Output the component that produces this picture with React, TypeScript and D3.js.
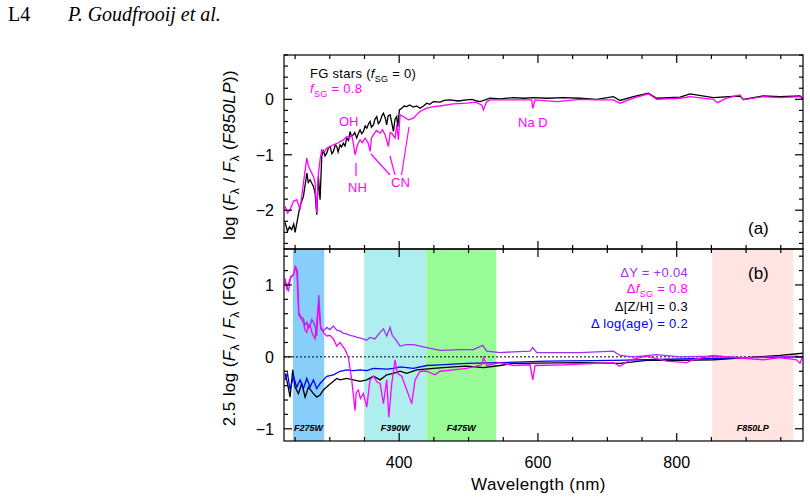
import React, { useEffect, useRef } from 'react';
import * as d3 from 'd3';

type Pt = [number, number];

// panel (a): log(F_lambda / F_lambda(F850LP)) vs wavelength (nm)
const fgStars: Pt[] = [
  [235.6, -2.22], [239, -2.38], [242, -2.3], [245, -2.35], [248, -2.25], [250, -2.4], [253.4, -2.17], [257, -1.93],
  [262, -1.75], [267, -1.33], [269, -1.5], [271.6, -1.45], [276.4, -1.57], [278.8, -1.69], [281.2, -2.08],
  [283.6, -1.39], [286, -1.81], [288.4, -1.03], [290.8, -0.91], [293, -1.02], [295.6, -0.97], [298, -0.88], [300.4, -0.85],
  [303, -0.98], [305.2, -0.94], [308, -0.82], [310, -0.85], [312, -0.95], [314.8, -0.82], [317, -0.86], [319.6, -0.79],
  [322, -0.84], [324.4, -0.7], [327, -0.74], [329.2, -0.58], [331, -0.66], [334, -0.64], [336, -0.6], [338.8, -0.7],
  [341, -0.62], [343.6, -0.55], [346, -0.62], [348.4, -0.58], [351, -0.48], [353.3, -0.52], [356, -0.44], [358, -0.4],
  [360, -0.5], [362.9, -0.46], [365, -0.36], [367.7, -0.31], [370, -0.44], [372.5, -0.4], [375, -0.3], [377.3, -0.25],
  [380, -0.34], [382, -0.46], [384, -0.3], [386.9, -0.28], [389, -0.4], [391.7, -0.58], [394, -0.36], [396.5, -0.31],
  [398, -0.5], [400.3, -0.19], [403.7, -0.16], [407, -0.12], [410.9, -0.13], [415, -0.1], [420.5, -0.14],
  [425, -0.12], [430.1, -0.16], [435, -0.12], [439.7, -0.07], [444, -0.09], [449.3, -0.04], [458.9, -0.05], [465, -0.02],
  [473.3, -0.01], [485, -0.03], [497.3, -0.01], [505, 0], [512, -0.03],
  [516.6, -0.04], [531, 0.02], [545, 0.01], [564.6, 0.03], [580, 0.02], [593.4, 0.03], [612.7, 0.02], [636.7, 0.03],
  [660.7, 0.02], [684.7, 0], [708.7, 0.05], [718.3, -0.02], [737.5, 0.05], [759.2, 0.11],
  [771.2, 0.02], [804.8, 0.04], [819.2, 0.1], [852.8, 0.03], [891.2, 0.06], [896, 0],
  [924.9, 0.06], [948.9, 0.05], [977.7, 0.06], [981.5, 0.02],
];

const fsg08: Pt[] = [
  [235.6, -1.93], [239, -2.05], [242.8, -1.99], [247.6, -1.84], [252.4, -1.81], [257.2, -1.99],
  [262, -1.51], [266.8, -1.06], [269, -1.2], [271.6, -1.27], [276.4, -1.39], [278.8, -1.51], [281.2, -2.05],
  [283.6, -1.33], [286, -1.09], [288.4, -0.91], [292, -0.95], [295.6, -0.88], [300, -0.86], [305.2, -0.82],
  [310, -0.8], [314.8, -0.76], [319, -0.74], [324.4, -0.67], [328, -0.7], [331.6, -0.64], [334, -0.8],
  [336.4, -1.0], [340, -0.82], [343.6, -0.73], [347, -0.78], [350.9, -0.7], [355, -0.78], [358.1, -0.94],
  [360, -0.7], [362.9, -0.64], [367, -0.56], [372.5, -0.61], [376, -0.55], [379.7, -0.64], [384.5, -0.85],
  [387, -0.6], [389.3, -0.61], [394.1, -0.7], [396.5, -0.46], [398.9, -0.73], [401.3, -0.28], [406.1, -0.31],
  [413.3, -0.37], [420.5, -0.34], [425, -0.28], [430.1, -0.22], [439.7, -0.16], [449.3, -0.13], [458.9, -0.12],
  [478.1, -0.08], [497.3, -0.07], [510, -0.05],
  [519, -0.1], [521.4, -0.19], [526.2, -0.04], [531, -0.01], [564.6, -0.01], [591, -0.01],
  [592.5, -0.16], [595.9, -0.01], [627, -0.04], [660.7, 0], [684.7, -0.01], [708.7, -0.01],
  [718.3, -0.07], [737.5, 0.02], [759.2, 0.1], [771.2, 0], [804.8, 0.02], [819.2, 0.05],
  [852.8, 0], [858.6, -0.06], [872, 0.02], [891.2, 0.08], [896, -0.01], [924.9, 0.05],
  [948.9, 0.03], [977.7, 0.05], [981.5, 0],
];

// panel (b): 2.5 log(F_lambda / F_lambda(FG))
const deltaY: Pt[] = [
  [235.6, 1.09], [238, 0.98], [240.4, 0.91], [243.7, 1.12], [247.6, 1.14], [251, 1.25],
  [253.4, 1.19], [255.3, 0.61], [259, 0.55], [262, 0.53], [264, 0.44], [266.8, 0.48], [269, 0.4], [271.6, 0.43],
  [274, 0.52], [276.4, 0.48], [279, 0.42], [281.2, 0.29], [284.1, 0.86], [287, 0.41], [291, 0.36], [295.6, 0.41],
  [300, 0.38], [305.2, 0.43], [310, 0.37], [314.8, 0.36], [319, 0.33], [324.4, 0.32], [329, 0.3], [334, 0.29],
  [340, 0.27], [348.4, 0.25], [353, 0.23], [358, 0.27], [365, 0.25], [372.5, 0.34], [377.3, 0.39],
  [382.1, 0.29], [386.9, 0.41], [390, 0.3], [394.1, 0.25], [401.3, 0.15], [410, 0.17], [420.5, 0.17], [430.1, 0.15],
  [439.7, 0.13], [458.9, 0.09], [487.7, 0.1], [507, 0.1], [520.4, 0.16], [526.2, 0.08],
  [545.4, 0.06], [564.6, 0.07], [588.6, 0.08], [592.5, 0.13], [598.3, 0.06], [660.7, 0.06],
  [708.7, 0.08], [718.3, 0.02], [737.5, 0], [771.2, 0.03], [804.8, 0], [852.8, 0.01],
  [900.8, -0.01], [972.9, 0.01], [981.5, -0.01],
];

const deltaFsg: Pt[] = [
  [235.6, 1.05], [238, 0.95], [242.8, 1.09], [247.6, 1.14], [250, 1.25], [252.4, 1.19],
  [255.3, 0.58], [262, 0.48], [264, 0.38], [266.8, 0.34], [269, 0.45], [271.6, 0.43], [275, 0.32], [278.8, 0.25],
  [283.6, 0.72], [287, 0.39], [290.8, 0.34], [295.6, 0.29], [300, 0.3], [305.2, 0.25], [310, 0.15], [314.8, 0.2],
  [322, 0.1], [326.8, -0.01], [331.6, -0.32], [336.4, -0.75], [338, -0.5], [341.2, -0.46], [344, -0.58], [348.4, -0.51],
  [353.3, -0.7], [358, -0.32], [362.9, -0.27], [368, -0.35], [372.5, -0.37], [377.3, -0.65], [382.1, -0.32],
  [385, -0.84], [389.3, -0.37], [394.1, -0.04], [397.4, -0.23], [403.7, -0.27], [410.9, -0.46],
  [418.1, -0.65], [422.9, -0.32], [430.1, -0.2], [439.7, -0.2], [451.7, -0.25], [458.9, -0.2],
  [478.1, -0.18], [497.3, -0.16], [519, -0.11], [521.4, -0.01], [526.2, -0.12], [545.4, -0.08],
  [564.6, -0.12], [588.6, -0.11], [592.5, -0.32], [595.9, -0.12], [636.7, -0.11], [684.7, -0.09],
  [708.7, -0.08], [718.3, -0.13], [732.7, -0.04], [756.8, 0.01], [785.6, -0.06], [814.4, -0.08],
  [824, -0.04], [852.8, 0.02], [881.6, -0.01], [924.9, -0.04], [948.9, -0.01], [972.9, -0.04],
  [977.7, -0.09], [981.5, 0.01],
];

const deltaZH: Pt[] = [
  [235.6, -0.23], [239, -0.37], [242.8, -0.56], [246.6, -0.18], [250, -0.42], [254.8, -0.51],
  [259.6, -0.37], [264.4, -0.56], [269.2, -0.42], [276.4, -0.51], [281.2, -0.56], [286, -0.53],
  [290.8, -0.46], [295.6, -0.42], [300, -0.38], [305.2, -0.34], [310, -0.3], [314.8, -0.32], [324.4, -0.3], [334, -0.32],
  [343.6, -0.34], [353.3, -0.32], [362.9, -0.27], [372.5, -0.32], [382.1, -0.25], [391.7, -0.23],
  [401.3, -0.2], [410.9, -0.23], [425.3, -0.18], [449.3, -0.16], [478.1, -0.14], [497.3, -0.13],
  [521.4, -0.15], [545.4, -0.12], [564.6, -0.09], [660.7, -0.08], [718.3, -0.09], [756.8, -0.05],
  [804.8, -0.05], [852.8, -0.04], [900.8, -0.01], [948.9, 0.02], [981.5, 0.05],
];

const deltaAge: Pt[] = [
  [235.6, -0.32], [239, -0.23], [242.8, -0.46], [247.6, -0.27], [252.4, -0.42], [257.2, -0.32],
  [262, -0.44], [266.8, -0.3], [271.6, -0.42], [276.4, -0.32], [281.2, -0.44], [286, -0.37],
  [290.8, -0.32], [295.6, -0.27], [305.2, -0.25], [314.8, -0.2], [324.4, -0.18], [334, -0.19],
  [343.6, -0.18], [353.3, -0.19], [362.9, -0.16], [382.1, -0.17], [391.7, -0.16], [401.3, -0.14],
  [420.5, -0.16], [439.7, -0.12], [458.9, -0.11], [497.3, -0.09], [545.4, -0.08], [612.7, -0.06],
  [708.7, -0.05], [804.8, -0.03], [900.8, -0.01], [981.5, 0],
];

// HST filter bands shaded in panel (b)
const bandNames = ['F275W', 'F390W', 'F475W', 'F850LP'];
const bandLo = [247, 349.5, 439, 851];
const bandHi = [292, 439, 540, 968];
const bandColors = ['#87cefa', '#afeeee', '#98fb98', '#ffe4e1'];

const xTicks = [400, 600, 800];
const aTicks = [-2, -1, 0];
const bTicks = [-1, 0, 1];

type Part = { t: string; i?: boolean; sub?: boolean };

const font = "'Liberation Sans', Arial, sans-serif";

function rich(sel: d3.Selection<SVGTextElement, unknown, null, undefined>, parts: Part[], subSize: number) {
  let down = false;
  parts.forEach(p => {
    const ts = sel.append('tspan').text(p.t);
    if (p.i) ts.attr('font-style', 'italic');
    if (p.sub && !down) { ts.attr('dy', 4).attr('font-size', subSize); down = true; }
    else if (p.sub) ts.attr('font-size', subSize);
    else if (down) { ts.attr('dy', -4); down = false; }
  });
}

const Chart: React.FC = () => {
  const ref = useRef<SVGSVGElement | null>(null);

  useEffect(() => {
    const svg = d3.select(ref.current);
    svg.selectAll('*').remove();

    const L = 284, R = 803, T = 55, M = 249, B = 441;
    const x = d3.scaleLinear().domain([234, 982]).range([L, R]);
    const yA = d3.scaleLinear().domain([-2.7, 0.8]).range([M, T]);
    const yB = d3.scaleLinear().domain([-1.17, 1.5]).range([B, M]);

    // header
    svg.append('text').attr('x', 8).attr('y', 21).attr('font-family', "'Liberation Serif', serif")
      .attr('font-size', 20).text('L4');
    svg.append('text').attr('x', 68).attr('y', 21).attr('font-family', "'Liberation Serif', serif")
      .attr('font-size', 20).attr('font-style', 'italic').text('P. Goudfrooij et al.');

    const defs = svg.append('defs');
    defs.append('clipPath').attr('id', 'clipA').append('rect')
      .attr('x', L).attr('y', T).attr('width', R - L).attr('height', M - T);
    defs.append('clipPath').attr('id', 'clipB').append('rect')
      .attr('x', L).attr('y', M).attr('width', R - L).attr('height', B - M);

    // bands
    const gb = svg.append('g');
    bandNames.forEach((n, i) => {
      gb.append('rect').attr('x', x(bandLo[i])).attr('y', M)
        .attr('width', x(bandHi[i]) - x(bandLo[i])).attr('height', B - M)
        .attr('fill', bandColors[i]);
      gb.append('text').attr('x', (x(bandLo[i]) + x(bandHi[i])) / 2).attr('y', 431)
        .attr('text-anchor', 'middle').attr('font-family', font).attr('font-size', 9)
        .attr('font-style', 'italic').attr('font-weight', 'bold').text(n);
    });

    // zero line
    svg.append('line').attr('x1', L).attr('x2', R).attr('y1', yB(0)).attr('y2', yB(0))
      .attr('stroke', '#000').attr('stroke-width', 1).attr('stroke-dasharray', '2,2');

    const lineA = d3.line<Pt>().x(d => x(d[0])).y(d => yA(d[1]));
    const lineB = d3.line<Pt>().x(d => x(d[0])).y(d => yB(d[1]));

    const ga = svg.append('g').attr('clip-path', 'url(#clipA)').attr('fill', 'none').attr('stroke-width', 1.3);
    ga.append('path').attr('d', lineA(fgStars)).attr('stroke', '#000');
    ga.append('path').attr('d', lineA(fsg08)).attr('stroke', '#ff00ff');

    const gB = svg.append('g').attr('clip-path', 'url(#clipB)').attr('fill', 'none').attr('stroke-width', 1.3);
    gB.append('path').attr('d', lineB(deltaZH)).attr('stroke', '#000');
    gB.append('path').attr('d', lineB(deltaAge)).attr('stroke', '#0000ff');
    gB.append('path').attr('d', lineB(deltaY)).attr('stroke', '#a030f0');
    gB.append('path').attr('d', lineB(deltaFsg)).attr('stroke', '#ff00ff');

    // frames and ticks
    const ax = svg.append('g').attr('stroke', '#000').attr('stroke-width', 1.2);
    [[T, M], [M, B]].forEach(([t, b]) => {
      ax.append('rect').attr('x', L).attr('y', t).attr('width', R - L).attr('height', b - t).attr('fill', 'none');
      d3.range(250, 982, 50).forEach(v => {
        const len = v % 200 === 0 ? 8 : 4;
        ax.append('line').attr('x1', x(v)).attr('x2', x(v)).attr('y1', t).attr('y2', t + len);
        ax.append('line').attr('x1', x(v)).attr('x2', x(v)).attr('y1', b).attr('y2', b - len);
      });
    });
    const yTicks = (sc: d3.ScaleLinear<number, number>, lo: number, hi: number) => {
      for (let k = Math.ceil(lo * 5); k <= Math.floor(hi * 5); k++) {
        const v = k / 5;
        const len = k % 5 === 0 ? 8 : 4;
        ax.append('line').attr('x1', L).attr('x2', L + len).attr('y1', sc(v)).attr('y2', sc(v));
        ax.append('line').attr('x1', R).attr('x2', R - len).attr('y1', sc(v)).attr('y2', sc(v));
      }
    };
    yTicks(yA, -2.7, 0.8);
    yTicks(yB, -1.17, 1.5);

    const lab = svg.append('g').attr('font-family', font).attr('font-size', 16).attr('fill', '#000');
    xTicks.forEach(v => {
      lab.append('text').attr('x', x(v)).attr('y', 468).attr('text-anchor', 'middle').text(String(v));
    });
    aTicks.forEach(v => {
      lab.append('text').attr('x', 274).attr('y', yA(v)).attr('dy', '0.36em').attr('text-anchor', 'end')
        .text(v < 0 ? '\u2212' + Math.abs(v) : String(v));
    });
    bTicks.forEach(v => {
      lab.append('text').attr('x', 274).attr('y', yB(v)).attr('dy', '0.36em').attr('text-anchor', 'end')
        .text(v < 0 ? '\u2212' + Math.abs(v) : String(v));
    });
    lab.append('text').attr('x', (L + R) / 2 - 5).attr('y', 490).attr('text-anchor', 'middle')
      .attr('font-size', 17).attr('letter-spacing', 0.4).text('Wavelength (nm)');

    const ytA = lab.append('text').attr('transform', `translate(235,${(T + M) / 2 + 3}) rotate(-90)`)
      .attr('text-anchor', 'middle').attr('font-size', 17).attr('letter-spacing', 0.4);
    rich(ytA, [{ t: 'log (' }, { t: 'F', i: true }, { t: '\u03bb', sub: true }, { t: ' / ' },
      { t: 'F', i: true }, { t: '\u03bb', sub: true }, { t: ' (' }, { t: 'F850LP', i: true }, { t: '))' }], 12);
    const ytB = lab.append('text').attr('transform', `translate(235,${(M + B) / 2}) rotate(-90)`)
      .attr('text-anchor', 'middle').attr('font-size', 17).attr('letter-spacing', 0.4);
    rich(ytB, [{ t: '2.5 log (' }, { t: 'F', i: true }, { t: '\u03bb', sub: true }, { t: ' / ' },
      { t: 'F', i: true }, { t: '\u03bb', sub: true }, { t: ' (FG))' }], 12);

    // panel (a) annotations
    const ann = svg.append('g').attr('font-family', font).attr('font-size', 13);
    const t1 = ann.append('text').attr('x', 310).attr('y', 78).attr('fill', '#000').attr('letter-spacing', 0.3);
    rich(t1, [{ t: 'FG stars (' }, { t: 'f', i: true }, { t: 'SG', sub: true }, { t: ' = 0)' }], 9);
    const t2 = ann.append('text').attr('x', 310).attr('y', 93).attr('fill', '#ff00ff').attr('letter-spacing', 0.3);
    rich(t2, [{ t: 'f', i: true }, { t: 'SG', sub: true }, { t: ' = 0.8' }], 9);
    ann.append('text').attr('x', 339).attr('y', 126).attr('fill', '#ff00ff').text('OH');
    ann.append('text').attr('x', 348).attr('y', 192).attr('fill', '#ff00ff').text('NH');
    ann.append('text').attr('x', 391).attr('y', 187).attr('fill', '#ff00ff').text('CN');
    ann.append('text').attr('x', 518).attr('y', 127).attr('fill', '#ff00ff').text('Na D');
    const al = ann.append('g').attr('stroke', '#ff00ff').attr('stroke-width', 1.2);
    [[356, 163, 356, 176], [371, 154, 390, 175], [390, 156, 395, 175], [409, 127, 401.5, 175]].forEach(s => {
      al.append('line').attr('x1', s[0]).attr('y1', s[1]).attr('x2', s[2]).attr('y2', s[3]);
    });
    ann.append('text').attr('x', 748).attr('y', 234).attr('font-size', 17).text('(a)');
    ann.append('text').attr('x', 748).attr('y', 279).attr('font-size', 17).text('(b)');

    // panel (b) legend
    const lg = svg.append('g').attr('font-family', font).attr('font-size', 13).attr('text-anchor', 'end')
      .attr('letter-spacing', 0.3);
    lg.append('text').attr('x', 688).attr('y', 277).attr('fill', '#a030f0').text('\u0394Y = +0.04');
    const l2 = lg.append('text').attr('x', 688).attr('y', 293).attr('fill', '#ff00ff');
    rich(l2, [{ t: '\u0394' }, { t: 'f', i: true }, { t: 'SG', sub: true }, { t: ' = 0.8' }], 9);
    lg.append('text').attr('x', 688).attr('y', 311).attr('fill', '#000').text('\u0394[Z/H] = 0.3');
    lg.append('text').attr('x', 688).attr('y', 328).attr('fill', '#0000ff').text('\u0394 log(age) = 0.2');
  }, []);

  return <svg ref={ref} width={810} height={498} style={{ position: 'absolute', left: 0, top: 0 }} />;
};

export default function App() {
  return <Chart />;
}
